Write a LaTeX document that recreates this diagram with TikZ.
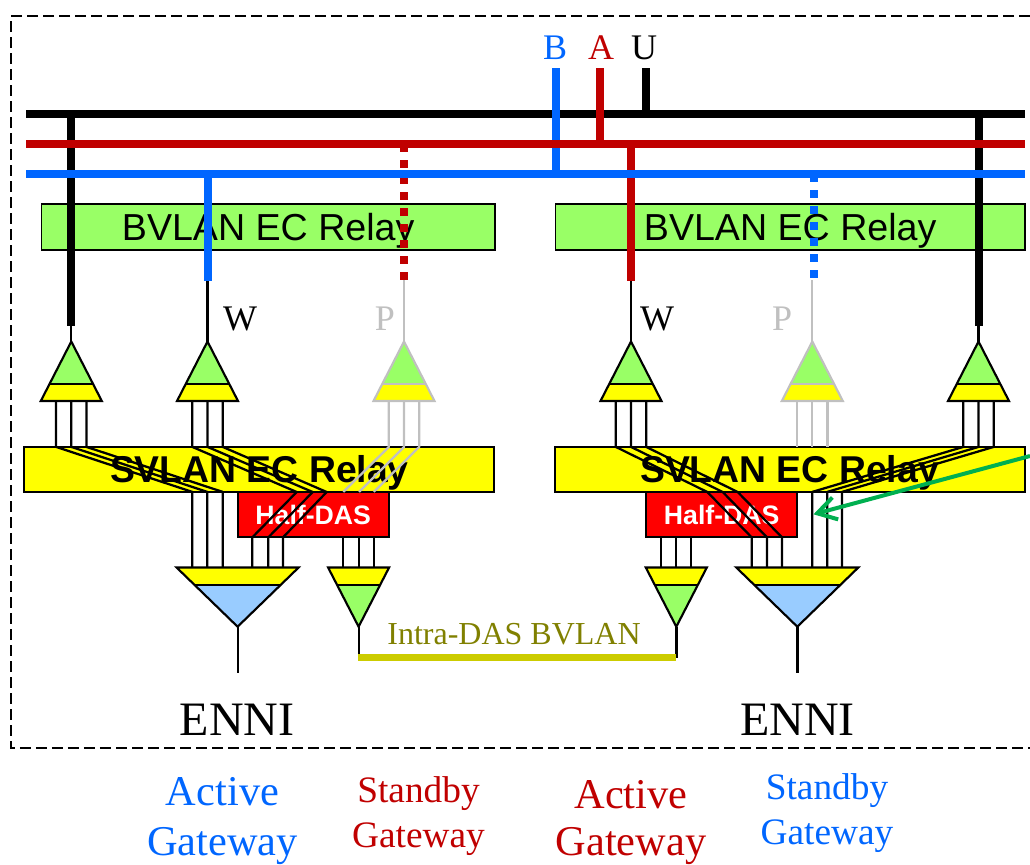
\documentclass[tikz,border=0pt]{standalone}
\usepackage{fontspec}
\setmainfont{Liberation Serif}
\setsansfont{Liberation Sans}
\usetikzlibrary{arrows.meta}
\definecolor{cgreen}{HTML}{99FF66}
\definecolor{cyellow}{HTML}{FFFF00}
\definecolor{cblue}{HTML}{99CCFF}
\definecolor{dred}{HTML}{C00000}
\definecolor{bblue}{HTML}{0066FF}
\definecolor{cgray}{HTML}{C0C0C0}
\definecolor{olivetxt}{HTML}{808000}
\definecolor{oliveln}{HTML}{CCCC00}
\definecolor{arrowgr}{HTML}{00B050}
\newcommand{\fs}[1]{\fontsize{#1}{#1}\selectfont}
\tikzset{
  bus/.style={line width=5.8pt},
  trunk/.style={line width=6pt},
  dashtrunk/.style={line width=6pt,dash pattern=on 6pt off 6pt},
  thin wire/.style={line width=1.6pt},
  leg/.style={line width=1.7pt,line join=round},
  outl/.style={line width=1.6pt,line join=miter},
  bvbox/.style={draw=black,line width=1.2pt,fill=cgreen,minimum width=340pt,minimum height=34.5pt,inner sep=0pt,outer sep=0pt,text height=20pt,text depth=0pt,font=\sffamily\fs{28.2}},
  svbox/.style={draw=black,line width=1.5pt,fill=cyellow,minimum height=33.75pt,inner sep=0pt,outer sep=0pt,text height=20pt,text depth=0pt,font=\sffamily\bfseries\fs{28}},
  dasbox/.style={draw=black,line width=1.5pt,fill=red,text=white,minimum width=113.25pt,minimum height=34pt,inner sep=0pt,outer sep=0pt,font=\sffamily\bfseries\fs{20}},
  lab/.style={inner sep=0pt,font=\fs{27}},
  biglab/.style={inner sep=0pt,anchor=base,font=\fs{31.8}},
  midlab/.style={inner sep=0pt,anchor=base,font=\fs{28}},
}
% up triangle: name, apex x, outline colour
\newcommand{\uptri}[3]{%
  \fill[cgreen] (#2,341.5) -- (#2-21.5,384) -- (#2+21.5,384) -- cycle;
  \fill[cyellow] (#2-21.5,384) -- (#2+21.5,384) -- (#2+30.5,401) -- (#2-30.5,401) -- cycle;
  \draw[outl,draw=#3] (#2,341.5) -- (#2+30.5,401) -- (#2-30.5,401) -- cycle;
  \draw[outl,draw=#3] (#2-21.5,384) -- (#2+21.5,384);
  \coordinate (#1-a) at (#2,341.5);
  \coordinate (#1-1) at (#2-15.2,401);
  \coordinate (#1-2) at (#2,401);
  \coordinate (#1-3) at (#2+15.2,401);
}
% down triangle: name, apex x, half width, half width at divider, colour
\newcommand{\dntri}[5]{%
  \fill[cyellow] (#2-#3,567.5) -- (#2+#3,567.5) -- (#2+#4,585) -- (#2-#4,585) -- cycle;
  \fill[#5] (#2-#4,585) -- (#2+#4,585) -- (#2,626.7) -- cycle;
  \draw[outl] (#2-#3,567.5) -- (#2+#3,567.5) -- (#2,626.7) -- cycle;
  \draw[outl] (#2-#4,585) -- (#2+#4,585);
  \coordinate (#1-a) at (#2,626.7);
}
\begin{document}
\begin{tikzpicture}[x=0.75pt,y=-0.75pt]
\useasboundingbox (0,0) rectangle (1030,864);
% dashed frame
\coordinate (f1) at (1030,16);
\coordinate (f2) at (11,16);
\coordinate (f3) at (11,748);
\coordinate (f4) at (1030,748);
\draw[line width=1.1pt,dash pattern=on 8pt off 4pt] (f1) -- (f2) -- (f3) -- (f4);

% boxes
\node[bvbox] (bv1) at (268.2,227.2) {BVLAN EC Relay};
\node[bvbox,minimum width=352pt] (bv2) at (790.2,227.2) {BVLAN EC Relay};
\node[dasbox] (das1) at (313.2,514.7) {Half-DAS};
\node[dasbox] (das2) at (721.7,514.7) {Half-DAS};
\node[svbox,minimum width=352.5pt] (sv1) at (259.4,469.4) {SVLAN EC Relay};
\node[svbox,minimum width=352.5pt] (sv2) at (789.5,469.4) {SVLAN EC Relay};

% triangles
\uptri{t1}{71.3}{black}
\uptri{t2}{207.5}{black}
\uptri{t3}{404}{cgray}
\uptri{t4}{631}{black}
\uptri{t5}{812.3}{cgray}
\uptri{t6}{978.5}{black}
\dntri{g1}{237.6}{61}{43.5}{cblue}
\dntri{g2}{358.6}{30.5}{21.5}{cgreen}
\dntri{g3}{676.3}{30.5}{21.5}{cgreen}
\dntri{g4}{797.3}{61}{43.5}{cblue}

% entry points on the gateway triangles
\coordinate (g1-1) at (192.3,567.5);
\coordinate (g1-2) at (207.3,567.5);
\coordinate (g1-3) at (222.7,567.5);
\coordinate (g1-4) at (252.3,567.5);
\coordinate (g1-5) at (268.3,567.5);
\coordinate (g1-6) at (283,567.5);
\coordinate (g2-1) at (343.3,567.5);
\coordinate (g2-2) at (359,567.5);
\coordinate (g2-3) at (373.7,567.5);
\coordinate (g3-1) at (661.3,567.5);
\coordinate (g3-2) at (676.3,567.5);
\coordinate (g3-3) at (691.3,567.5);
\coordinate (g4-1) at (751.7,567.5);
\coordinate (g4-2) at (767,567.5);
\coordinate (g4-3) at (782,567.5);
\coordinate (g4-4) at (812.3,567.5);
\coordinate (g4-5) at (827.3,567.5);
\coordinate (g4-6) at (842,567.5);
% crossing points at the lower edge of the SVLAN relay, over Half-DAS
\coordinate (x1) at (296.7,492);
\coordinate (x2) at (312.7,492);
\coordinate (x3) at (326.7,492);
\coordinate (x4) at (707.3,492);
\coordinate (x5) at (722.7,492);
\coordinate (x6) at (737.7,492);

% wires: left half
\foreach \a/\b in {t1-1/g1-1,t1-2/g1-2,t1-3/g1-3}
  \draw[leg] (\a) -- (\a |- sv1.north) -- (\b |- sv1.south) -- (\b);
\foreach \a/\c/\b in {t2-1/x1/g1-4,t2-2/x2/g1-5,t2-3/x3/g1-6}
  \draw[leg] (\a) -- (\a |- sv1.north) -- (\c) -- (\b |- das1.south) -- (\b);
\foreach \a/\b in {t3-1/g2-1,t3-2/g2-2,t3-3/g2-3} {
  \draw[leg,draw=cgray] (\a) -- (\a |- sv1.north) -- (\b |- sv1.south);
  \draw[leg] (\b |- das1.south) -- (\b);
}
% wires: right half
\foreach \a/\c/\b in {t4-1/x4/g4-1,t4-2/x5/g4-2,t4-3/x6/g4-3}
  \draw[leg] (\a) -- (\a |- sv2.north) -- (\c) -- (\b |- das2.south) -- (\b);
\foreach \b in {g3-1,g3-2,g3-3}
  \draw[leg] (\b |- das2.south) -- (\b);
\foreach \a in {t5-1,t5-2,t5-3}
  \draw[leg,draw=cgray] (\a) -- (\a |- sv2.north);
\foreach \a/\b in {t6-1/g4-4,t6-2/g4-5,t6-3/g4-6}
  \draw[leg] (\a) -- (\a |- sv2.north) -- (\b |- sv2.south) -- (\b);

% ENNI stubs and intra-DAS link
\coordinate (e1) at (237.6,673);
\coordinate (e2) at (797.3,673);
\coordinate (d1) at (358.6,658);
\coordinate (d2) at (676.3,658);
\draw[thin wire] (g1-a) -- (e1);
\draw[line width=2pt] (g4-a) -- (e2);
\draw[thin wire] (g2-a) -- (d1);
\draw[line width=2.2pt] (g3-a) -- (d2);
\coordinate (o1) at (358.3,657.5);
\coordinate (o2) at (676,657.5);
\draw[line width=5.6pt,draw=oliveln] (o1) -- (o2);

% bus coordinates
\coordinate (bkL) at (26,113.7);
\coordinate (bkR) at (1025,113.7);
\coordinate (rdL) at (26,144);
\coordinate (rdR) at (1025,144);
\coordinate (blL) at (26,174);
\coordinate (blR) at (1025,174);
\coordinate (uT) at (646,68);
\coordinate (aT) at (600,68);
\coordinate (bT) at (555.5,68);
\coordinate (v1) at (71.3,325.7);
\coordinate (v2) at (207.5,281);
\coordinate (v3) at (404,280);
\coordinate (v4) at (631,281);
\coordinate (v5) at (814,280);
\coordinate (v6) at (978.5,325.7);
\coordinate (v5b) at (812.3,280);

% thin drops
\draw[thin wire] (v1) -- (t1-a);
\draw[thin wire] (v2) -- (t2-a);
\draw[thin wire,draw=cgray] (v3) -- (t3-a);
\draw[thin wire] (v4) -- (t4-a);
\draw[thin wire,draw=cgray] (v5b) -- (t5-a);
\draw[thin wire] (v6) -- (t6-a);

% trunks
\draw[trunk] (v1 |- bkL) -- (v1);
\draw[trunk] (v6 |- bkL) -- (v6);
\draw[trunk,draw=bblue] (v2 |- blL) -- (v2);
\draw[trunk,draw=dred] (v4 |- rdL) -- (v4);
\draw[dashtrunk,draw=dred] (v3 |- rdL) -- (v3);
\draw[dashtrunk,draw=bblue] (v5 |- blL) -- (v5);

% buses
\draw[bus] (bkL) -- (bkR);
\draw[trunk] (uT) -- (uT |- bkL);
\draw[trunk,draw=bblue] (bT) -- (bT |- blL);
\draw[trunk,draw=dred] (aT) -- (aT |- rdL);
\draw[bus,draw=dred] (rdL) -- (rdR);
\draw[bus,draw=bblue] (blL) -- (blR);

% labels
\node[lab,text=bblue] (lb) at (555,48) {B};
\node[lab,text=dred] (la) at (601,48) {A};
\node[lab] (lu) at (644,48) {U};
\node[lab] (w1) at (240,319) {W};
\node[lab,text=cgray] (p1) at (385,319) {P};
\node[lab] (w2) at (657,319) {W};
\node[lab,text=cgray] (p2) at (782,319) {P};
\node[inner sep=0pt,font=\fs{24},text=olivetxt] (intra) at (514,634) {Intra-DAS BVLAN};
\node[inner sep=0pt,font=\fs{36}] (enni1) at (237,720) {ENNI};
\node[inner sep=0pt,font=\fs{36}] (enni2) at (797.5,720) {ENNI};
\node[biglab,text=bblue] (ag1) at (222.5,805) {Active};
\node[biglab,text=bblue] (ag2) at (222.5,855) {Gateway};
\node[midlab,text=dred] (sg1) at (418.5,802) {Standby};
\node[midlab,text=dred] (sg2) at (418.5,847) {Gateway};
\node[biglab,text=dred] (ag3) at (631,808) {Active};
\node[biglab,text=dred] (ag4) at (631,855) {Gateway};
\node[midlab,text=bblue] (sg3) at (827,799) {Standby};
\node[midlab,text=bblue] (sg4) at (827,844.5) {Gateway};

% green arrow
\coordinate (ar1) at (1030,456);
\coordinate (ar2) at (813.5,514.3);
\draw[line width=3pt,draw=arrowgr,-{Straight Barb[length=14pt,width=17pt,line width=3pt]}] (ar1) -- (ar2);
\end{tikzpicture}
\end{document}
